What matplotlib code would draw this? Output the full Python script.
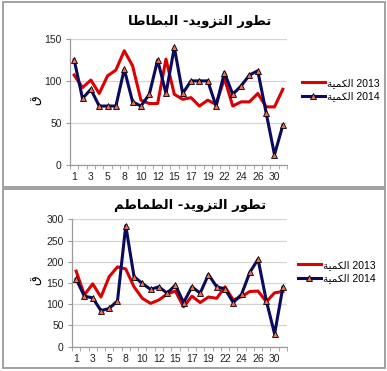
import matplotlib
matplotlib.use("Agg")
import matplotlib.pyplot as plt
from matplotlib.patches import Rectangle
from matplotlib.ticker import FixedLocator

plt.rcParams['font.family'] = ['Liberation Sans', 'DejaVu Sans']

# data
days = ['1', '2', '3', '4', '5', '7', '8', '9', '10', '11', '12', '14', '15',
        '16', '17', '18', '19', '21', '22', '23', '24', '25', '26', '28', '30', '31']
potato_2013 = [107, 92, 101, 85, 106, 113, 136, 118, 77, 73, 73, 126, 84,
               78, 80, 70, 77, 72, 103, 70, 75, 75, 85, 69, 69, 90]
potato_2014 = [125, 79, 90, 70, 70, 70, 114, 75, 70, 84, 125, 85, 140,
               85, 100, 100, 100, 70, 110, 84, 94, 107, 112, 62, 12, 47]
tomato_2013 = [178, 122, 148, 117, 165, 188, 183, 141, 114, 102, 110, 124, 131,
               94, 119, 104, 117, 114, 141, 110, 118, 130, 131, 106, 127, 130]
tomato_2014 = [159, 119, 115, 85, 90, 108, 285, 165, 149, 135, 141, 126, 145,
               104, 141, 126, 170, 141, 136, 104, 123, 175, 206, 108, 30, 140]

# arabic shaping by hand (matplotlib has no shaping / bidi)
FORMS = {
    'ا': (0xFE8D, 0xFE8E, None, None),
    'ب': (0xFE8F, 0xFE90, 0xFE91, 0xFE92),
    'ة': (0xFE93, 0xFE94, None, None),
    'ت': (0xFE95, 0xFE96, 0xFE97, 0xFE98),
    'د': (0xFEA9, 0xFEAA, None, None),
    'ر': (0xFEAD, 0xFEAE, None, None),
    'ز': (0xFEAF, 0xFEB0, None, None),
    'ط': (0xFEC1, 0xFEC2, 0xFEC3, 0xFEC4),
    'ق': (0xFED5, 0xFED6, 0xFED7, 0xFED8),
    'ك': (0xFED9, 0xFEDA, 0xFEDB, 0xFEDC),
    'ل': (0xFEDD, 0xFEDE, 0xFEDF, 0xFEE0),
    'م': (0xFEE1, 0xFEE2, 0xFEE3, 0xFEE4),
    'و': (0xFEED, 0xFEEE, None, None),
    'ي': (0xFEF1, 0xFEF2, 0xFEF3, 0xFEF4),
}

def shape_word(w):
    out = []
    for i, ch in enumerate(w):
        if ch not in FORMS:
            out.append(ch)
            continue
        prev = w[i - 1] if i > 0 else None
        nxt = w[i + 1] if i + 1 < len(w) else None
        jp = prev in FORMS and FORMS[prev][2] is not None
        jn = FORMS[ch][2] is not None and nxt in FORMS
        f = FORMS[ch]
        if jp and jn:
            c = f[3]
        elif jp:
            c = f[1]
        elif jn:
            c = f[2]
        else:
            c = f[0]
        out.append(chr(c))
    return ''.join(out)[::-1]

title_top = shape_word('البطاطا') + ' -' + shape_word('التزويد') + ' ' + shape_word('تطور')
title_bot = shape_word('الطماطم') + ' -' + shape_word('التزويد') + ' ' + shape_word('تطور')
qty = shape_word('الكمية')
unit = shape_word('ق')

W, H = 387, 371
fig = plt.figure(figsize=(W / 100, H / 100), dpi=100)

def fx(px):
    return px / W

def fy(py):
    return 1 - py / H

# panel frames
for (x0, y0, x1, y1) in [(3, 2, 385, 187), (3, 189, 385, 368)]:
    fig.patches.append(Rectangle((fx(x0), fy(y1)), fx(x1) - fx(x0), fy(y0) - fy(y1),
                                 transform=fig.transFigure, fill=False,
                                 ec='#9a9a9a', lw=1.3))

def panel(rect, s13, s14, ymax, ystep, title, tpos, ylab_pos, leg_pos):
    ax = fig.add_axes(rect)
    x = list(range(len(days)))
    ax.plot(x, s13, color='#dd0000', lw=2.2, label=qty + ' 2013', zorder=3)
    ax.plot(x, s14, color='#0a0a5e', lw=2.2, marker='^', ms=4.5,
            mfc='#f06a5a', mec='black', mew=0.6, label=qty + ' 2014', zorder=4)
    ax.set_xlim(-0.5, len(days) - 0.5)
    ax.set_ylim(0, ymax)
    ax.set_yticks(range(0, ymax + 1, ystep))
    ax.xaxis.set_major_locator(FixedLocator(x[::2]))
    ax.set_xticklabels(days[::2])
    ax.xaxis.set_minor_locator(FixedLocator([i - 0.5 for i in range(len(days) + 1)]))
    ax.tick_params(axis='x', which='major', length=0, pad=5, labelsize=7.5, labelcolor='#222222')
    ax.tick_params(axis='x', which='minor', length=3, color='#9a9a9a', direction='out')
    ax.tick_params(axis='y', length=3, color='#9a9a9a', labelsize=7.5, labelcolor='#222222', pad=3)
    ax.grid(axis='y', color='#d4d4d4', lw=0.9)
    ax.set_axisbelow(True)
    for s in ['top', 'right']:
        ax.spines[s].set_visible(False)
    for s in ['left', 'bottom']:
        ax.spines[s].set_color('#9a9a9a')
        ax.spines[s].set_linewidth(0.9)
    fig.text(fx(tpos[0]), fy(tpos[1]), title, ha='center', va='center',
             fontsize=9.5, fontweight='bold', family='DejaVu Sans')
    fig.text(fx(ylab_pos[0]), fy(ylab_pos[1]), unit, ha='center', va='center',
             rotation=90, fontsize=9, family='DejaVu Sans')
    ax.legend(loc='center left', bbox_to_anchor=(fx(leg_pos[0]), fy(leg_pos[1])),
              bbox_transform=fig.transFigure, frameon=False, fontsize=7.5,
              handlelength=2.2, handletextpad=0.2, labelspacing=0.35, borderpad=0,
              borderaxespad=0)
    return ax

panel([fx(70), fy(164.7), fx(287) - fx(70), fy(39) - fy(164.7)],
      potato_2013, potato_2014, 150, 50, title_top, (200, 21), (36, 100), (302, 89.5))
panel([fx(72), fy(346.7), fx(287) - fx(72), fy(219.3) - fy(346.7)],
      tomato_2013, tomato_2014, 300, 50, title_bot, (190, 205), (36, 280), (298, 271.5))

fig.savefig('out.png', dpi=100)
